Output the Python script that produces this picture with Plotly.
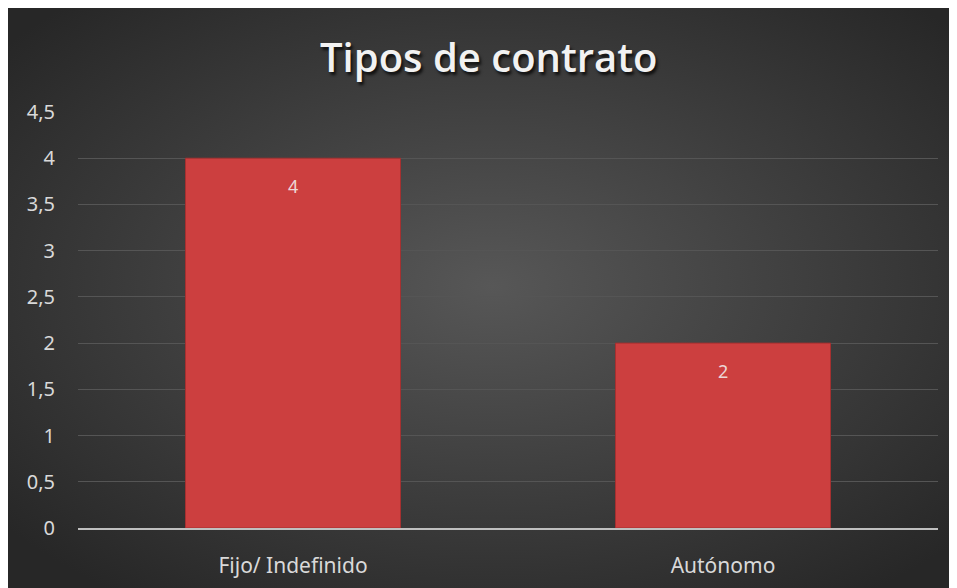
import base64
import plotly.graph_objects as go

# ---- data ----
categories = ["Fijo/ Indefinido", "Autónomo"]
values = [4, 2]
title_text = "Tipos de contrato"
y_ticks = [0, 0.5, 1, 1.5, 2, 2.5, 3, 3.5, 4, 4.5]

# figure is placed by the page with an 8px body margin
W, H = 949, 580
L, R, T, B = 70, 19, 104, 60
pw, ph = W - L - R, H - T - B

svg = (
    '<svg xmlns="http://www.w3.org/2000/svg" width="949" height="580" preserveAspectRatio="none">'
    '<defs><radialGradient id="g" cx="51%" cy="48%" r="66%">'
    '<stop offset="0%" stop-color="#575757"/>'
    '<stop offset="100%" stop-color="#272727"/>'
    '</radialGradient></defs>'
    '<rect width="949" height="580" fill="url(#g)"/></svg>'
)
bg_src = "data:image/svg+xml;base64," + base64.b64encode(svg.encode()).decode()


def px_x(p):
    return (p - L) / pw


def px_y(p):
    return (H - B - p) / ph


fig = go.Figure()
fig.add_trace(go.Bar(
    x=categories,
    y=values,
    width=0.5,
    marker=dict(color="#cc3f3f", line=dict(color="#a53030", width=1)),
    hoverinfo="skip",
))

annotations = [
    dict(text=title_text, xref="paper", yref="paper",
         x=px_x(480), y=px_y(49), showarrow=False,
         xanchor="center", yanchor="middle",
         font=dict(family="Open Sans", size=40, color="#f2f2f2", weight=600,
                   shadow="2px 3px 3px rgba(0,0,0,0.75)")),
]
for c, v in zip(categories, values):
    annotations.append(dict(
        text=str(v), x=c, y=v, xref="x", yref="y", showarrow=False,
        yanchor="middle", yshift=-28,
        font=dict(family="Noto Sans", size=18, color="#ecd6d6"),
    ))

fig.update_layout(
    width=W, height=H,
    margin=dict(l=L, r=R, t=T, b=B),
    paper_bgcolor="#2e2e2e",
    plot_bgcolor="rgba(0,0,0,0)",
    separators=",.",
    showlegend=False,
    bargap=0.5,
    images=[dict(
        source=bg_src, xref="paper", yref="paper",
        x=px_x(0), y=px_y(0),
        sizex=px_x(W) - px_x(0), sizey=px_y(0) - px_y(H),
        xanchor="left", yanchor="top", sizing="stretch", layer="below",
    )],
    annotations=annotations,
    xaxis=dict(
        showgrid=False, showline=True, linecolor="#bfbfbf", linewidth=2,
        ticks="", tickfont=dict(family="Noto Sans", size=21, color="#d9d9d9"),
        ticklabelstandoff=18, fixedrange=True, automargin=False,
    ),
    yaxis=dict(
        range=[0, 4.5], tickvals=y_ticks, showgrid=True, gridcolor="#555555",
        gridwidth=1, zeroline=False, showline=False, ticks="",
        tickfont=dict(family="Noto Sans", size=20, color="#d9d9d9"),
        ticklabelstandoff=22, fixedrange=True, automargin=False,
    ),
)

fig.write_html("out.html")
